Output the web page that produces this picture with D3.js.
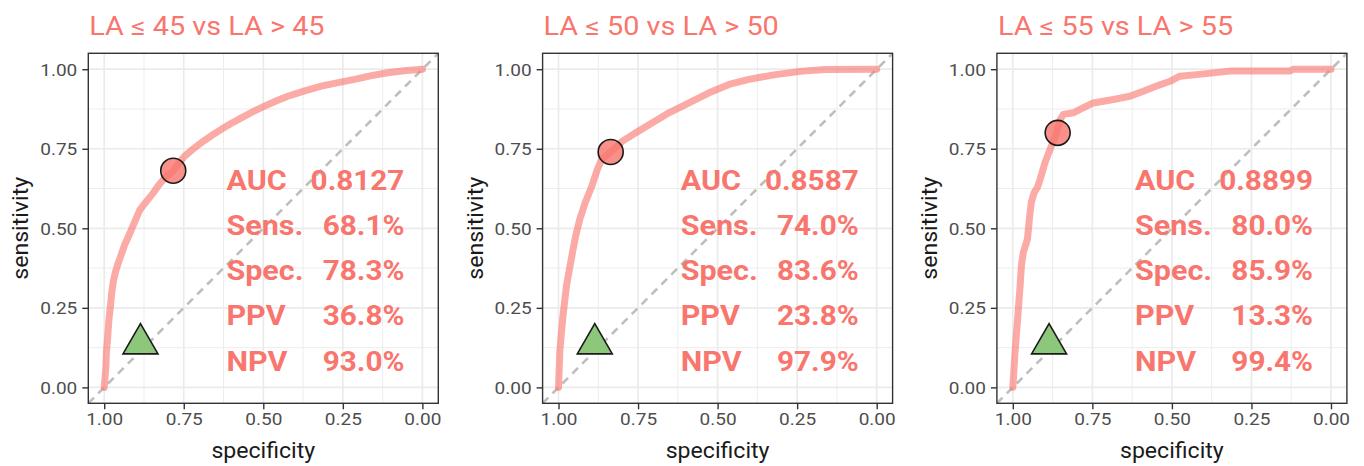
<!DOCTYPE html>
<html>
<head>
<meta charset="utf-8">
<script src="https://cdn.jsdelivr.net/npm/d3@7"></script>
<style>
  body { margin: 0; background: #fff; }
  text { font-family: Roboto, "Liberation Sans", sans-serif; }
</style>
</head>
<body>
<div id="chart"></div>
<script>
// ---- data ----
var titles = ["LA \u2264 45 vs LA > 45", "LA \u2264 50 vs LA > 50", "LA \u2264 55 vs LA > 55"];
var aucValues = ["0.8127", "0.8587", "0.8899"];
var sensValues = ["68.1%", "74.0%", "80.0%"];
var specValues = ["78.3%", "83.6%", "85.9%"];
var ppvValues = ["36.8%", "23.8%", "13.3%"];
var npvValues = ["93.0%", "97.9%", "99.4%"];
var statLabels = ["AUC", "Sens.", "Spec.", "PPV", "NPV"];

// best threshold (specificity, sensitivity)
var cutSpec = [0.783, 0.836, 0.859];
var cutSens = [0.681, 0.740, 0.800];
// reference marker (triangle)
var refSpec = [0.886, 0.886, 0.886];
var refSens = [0.137, 0.137, 0.137];

var axisTicks = [0, 0.25, 0.5, 0.75, 1];
var minorTicks = [0.125, 0.375, 0.625, 0.875];

// roc curves: [specificity, sensitivity]
var roc45 = [[1,0],[0.995,0.06],[0.993,0.111],[0.989,0.16],[0.985,0.215],[0.980,0.26],[0.976,0.30],
  [0.971,0.335],[0.964,0.365],[0.957,0.388],[0.950,0.407],[0.943,0.427],[0.935,0.450],[0.925,0.472],
  [0.914,0.497],[0.900,0.53],[0.888,0.558],[0.875,0.575],[0.862,0.591],[0.845,0.612],[0.831,0.633],
  [0.808,0.66],[0.783,0.681],[0.765,0.705],[0.747,0.727],[0.72,0.75],[0.695,0.769],[0.665,0.79],
  [0.632,0.811],[0.60,0.83],[0.569,0.847],[0.53,0.868],[0.496,0.884],[0.46,0.90],[0.423,0.915],
  [0.37,0.932],[0.318,0.947],[0.265,0.958],[0.213,0.968],[0.16,0.98],[0.109,0.989],[0.05,0.996],[0,1]];
var roc50 = [[1,0],[0.996,0.111],[0.987,0.215],[0.975,0.320],[0.956,0.424],[0.946,0.476],[0.933,0.529],
  [0.916,0.581],[0.895,0.633],[0.878,0.685],[0.864,0.717],[0.836,0.740],[0.799,0.774],[0.757,0.800],
  [0.705,0.832],[0.653,0.863],[0.590,0.894],[0.527,0.926],[0.464,0.952],[0.402,0.968],[0.318,0.983],
  [0.234,0.994],[0.161,0.999],[0,1]];
var roc55 = [[1,0],[0.993,0.111],[0.985,0.215],[0.981,0.268],[0.977,0.320],[0.973,0.382],[0.967,0.424],
  [0.954,0.466],[0.948,0.529],[0.942,0.581],[0.933,0.612],[0.923,0.628],[0.914,0.654],[0.899,0.706],
  [0.883,0.748],[0.862,0.800],[0.851,0.842],[0.841,0.858],[0.810,0.863],[0.778,0.879],[0.747,0.894],
  [0.684,0.905],[0.632,0.915],[0.590,0.931],[0.548,0.947],[0.506,0.962],[0.475,0.978],[0.423,0.983],
  [0.318,0.994],[0.130,0.994],[0.119,1.0],[0,1]];
var rocCurves = [roc45, roc50, roc55];

// ---- layout ----
var W = 1364, H = 466;
var panelW = 350, panelH = 350, panelTop = 53.3;
var firstLeft = 88.3, step = 454.3;
var salmon = "#F8766D";
var wide = 1.12; // the original font runs wider than Roboto

var svg = d3.select("#chart").append("svg")
    .attr("width", W).attr("height", H);

// text stretched horizontally around its anchor point
function wideText(parent, x, y, str, sx) {
    return parent.append("text")
        .attr("transform", "translate(" + x + "," + y + ") scale(" + sx + ",1)")
        .text(str);
}

for (var i = 0; i < 3; i++) {
    var left = firstLeft + i * step;
    var x = d3.scaleLinear().domain([1.05, -0.05]).range([left, left + panelW]);
    var y = d3.scaleLinear().domain([-0.05, 1.05]).range([panelTop + panelH, panelTop]);

    var g = svg.append("g");

    svg.append("clipPath").attr("id", "clip" + i)
      .append("rect").attr("x", left).attr("y", panelTop)
      .attr("width", panelW).attr("height", panelH);

    // grid
    g.selectAll(".minx").data(minorTicks).enter().append("line")
        .attr("x1", d => x(d)).attr("x2", d => x(d))
        .attr("y1", panelTop).attr("y2", panelTop + panelH)
        .attr("stroke", "#EBEBEB").attr("stroke-width", 0.9);
    g.selectAll(".miny").data(minorTicks).enter().append("line")
        .attr("y1", d => y(d)).attr("y2", d => y(d))
        .attr("x1", left).attr("x2", left + panelW)
        .attr("stroke", "#EBEBEB").attr("stroke-width", 0.9);
    g.selectAll(".majx").data(axisTicks).enter().append("line")
        .attr("x1", d => x(d)).attr("x2", d => x(d))
        .attr("y1", panelTop).attr("y2", panelTop + panelH)
        .attr("stroke", "#EBEBEB").attr("stroke-width", 1.7);
    g.selectAll(".majy").data(axisTicks).enter().append("line")
        .attr("y1", d => y(d)).attr("y2", d => y(d))
        .attr("x1", left).attr("x2", left + panelW)
        .attr("stroke", "#EBEBEB").attr("stroke-width", 1.7);

    // chance line (clipped to panel)
    g.append("line")
        .attr("clip-path", "url(#clip" + i + ")")
        .attr("x1", x(1.05)).attr("y1", y(-0.05))
        .attr("x2", x(-0.05)).attr("y2", y(1.05))
        .attr("stroke", "#BEBEBE").attr("stroke-width", 2.6)
        .attr("stroke-dasharray", "8,6");

    // roc curve
    var line = d3.line().x(d => x(d[0])).y(d => y(d[1]));
    g.append("path").datum(rocCurves[i])
        .attr("d", line)
        .attr("fill", "none")
        .attr("stroke", salmon).attr("stroke-opacity", 0.62)
        .attr("stroke-width", 7)
        .attr("stroke-linejoin", "round").attr("stroke-linecap", "round");

    // cut point
    g.append("circle")
        .attr("cx", x(cutSpec[i])).attr("cy", y(cutSens[i])).attr("r", 12.5)
        .attr("fill", salmon).attr("fill-opacity", 0.8)
        .attr("stroke", "#1a1a1a").attr("stroke-width", 1.6);

    // reference triangle
    var tx = x(refSpec[i]), ty = y(refSens[i]);
    g.append("path")
        .attr("d", d3.symbol().type(d3.symbolTriangle).size(530)())
        .attr("transform", "translate(" + tx + "," + ty + ")")
        .attr("fill", "#8DC77B")
        .attr("stroke", "#1a1a1a").attr("stroke-width", 1.6);

    // stats text
    var vals = [aucValues[i], sensValues[i], specValues[i], ppvValues[i], npvValues[i]];
    statLabels.forEach(function(lab, k) {
        var yy = y(0.6206 - k * 0.1419);
        wideText(g, x(0.616), yy, lab, 1.13)
            .attr("font-size", 27).attr("font-weight", "bold").attr("fill", salmon);
        wideText(g, x(0.0565), yy, vals[k], 1.1)
            .attr("text-anchor", "end")
            .attr("font-size", 27).attr("font-weight", "bold").attr("fill", salmon);
    });

    // panel border
    g.append("rect")
        .attr("x", left).attr("y", panelTop)
        .attr("width", panelW).attr("height", panelH)
        .attr("fill", "none").attr("stroke", "#333333").attr("stroke-width", 1.4);

    // axes
    var xAxis = d3.axisBottom(x).tickValues(axisTicks).tickFormat(d3.format(".2f"))
        .tickSize(6).tickPadding(4);
    var gx = svg.append("g").attr("transform", "translate(0," + (panelTop + panelH) + ")").call(xAxis);
    var yAxis = d3.axisLeft(y).tickValues(axisTicks).tickFormat(d3.format(".2f"))
        .tickSize(6).tickPadding(4);
    var gy = svg.append("g").attr("transform", "translate(" + left + ",0)").call(yAxis);
    [gx, gy].forEach(function(a) {
        a.select(".domain").remove();
        a.selectAll(".tick line").attr("stroke", "#333333").attr("stroke-width", 1.4);
        a.selectAll(".tick text").attr("fill", "#4D4D4D")
            .attr("font-size", 17).attr("font-family", "Roboto, sans-serif");
    });
    gx.selectAll(".tick text").attr("transform", "scale(" + wide + ",1)");
    gy.selectAll(".tick text")
        .attr("x", -11 / wide)
        .attr("dy", "0.36em")
        .attr("transform", "scale(" + wide + ",1)");

    // titles
    wideText(svg, left + 1, 35, titles[i], 1.13)
        .attr("font-size", 25.5).attr("fill", salmon);
    wideText(svg, left + panelW / 2, 458, "specificity", 1.05)
        .attr("text-anchor", "middle").attr("font-size", 22).attr("fill", "#1a1a1a");
    svg.append("text")
        .attr("transform", "translate(" + (left - 60) + "," + (panelTop + panelH / 2) + ") rotate(-90) scale(1.05,1)")
        .attr("text-anchor", "middle").attr("font-size", 22).attr("fill", "#1a1a1a")
        .text("sensitivity");
}
</script>
</body>
</html>
